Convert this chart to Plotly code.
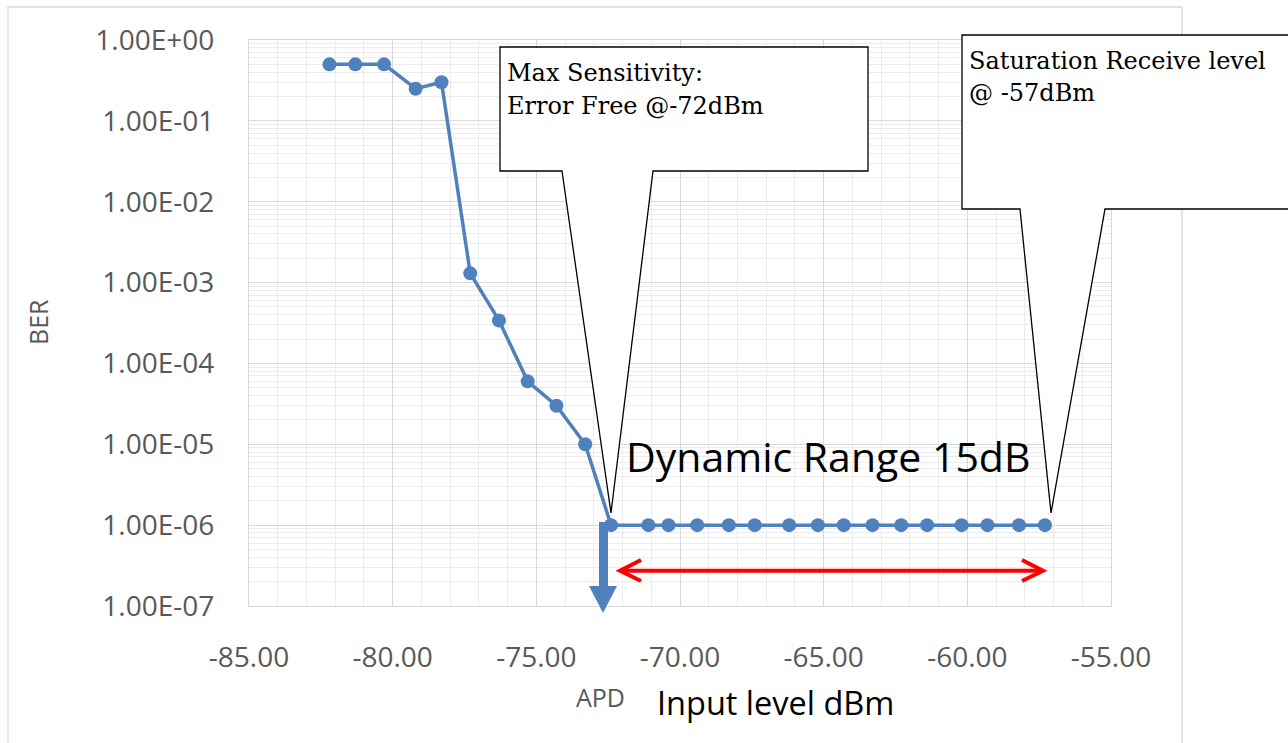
import plotly.graph_objects as go

# ---------------- data ----------------
input_dbm = [-82.2, -81.3, -80.3, -79.2, -78.3, -77.3, -76.3, -75.3, -74.3, -73.3,
             -72.4, -71.1, -70.4, -69.4, -68.3, -67.4, -66.2, -65.2, -64.3, -63.3,
             -62.3, -61.4, -60.2, -59.3, -58.2, -57.3]
ber = [0.5, 0.5, 0.5, 0.25, 0.3, 1.3e-3, 3.4e-4, 6e-5, 3e-5, 1e-5,
       1e-6, 1e-6, 1e-6, 1e-6, 1e-6, 1e-6, 1e-6, 1e-6, 1e-6, 1e-6,
       1e-6, 1e-6, 1e-6, 1e-6, 1e-6, 1e-6]

x_tickvals = [-85, -80, -75, -70, -65, -60, -55]
x_ticktext = ["-85.00", "-80.00", "-75.00", "-70.00", "-65.00", "-60.00", "-55.00"]
y_tickvals = [1e0, 1e-1, 1e-2, 1e-3, 1e-4, 1e-5, 1e-6, 1e-7]
y_ticktext = ["1.00E+00", "1.00E-01", "1.00E-02", "1.00E-03",
              "1.00E-04", "1.00E-05", "1.00E-06", "1.00E-07"]

# ---------------- layout helpers (pixel -> paper) ----------------
W_FIG, H_FIG = 1288, 743
L, R, T, B = 249, 1111, 40, 606
PW, PH = R - L, B - T


def px(x):
    return (x - L) / PW


def py(y):
    return (B - y) / PH


def path(points, close=True):
    s = "M " + " L ".join(f"{px(a):.5f},{py(b):.5f}" for a, b in points)
    return s + (" Z" if close else "")


BLUE = "#4F81BD"
GRAY = "#595959"
MAJ = "#d9d9d9"
MIN = "#ececec"

fig = go.Figure()
fig.add_trace(go.Scatter(
    x=input_dbm, y=ber, mode="lines+markers",
    line=dict(color=BLUE, width=3.5),
    marker=dict(color=BLUE, size=14),
    showlegend=False, hoverinfo="x+y"))

shapes = []
# outer chart border
shapes.append(dict(type="rect", xref="paper", yref="paper",
                   x0=px(8), x1=px(1182), y0=py(7), y1=py(760),
                   line=dict(color=MAJ, width=1.3), layer="below"))
# callout 1
shapes.append(dict(type="path", xref="paper", yref="paper",
                   path=path([(500, 47), (868, 47), (868, 171), (653, 171),
                              (611, 513), (562, 171), (500, 171)]),
                   fillcolor="white", line=dict(color="black", width=1.3),
                   layer="above"))
# callout 2
shapes.append(dict(type="path", xref="paper", yref="paper",
                   path=path([(962, 35), (1310, 35), (1310, 209), (1105, 209),
                              (1051, 513), (1020, 209), (962, 209)]),
                   fillcolor="white", line=dict(color="black", width=1.3),
                   layer="above"))
# blue down arrow
shapes.append(dict(type="path", xref="paper", yref="paper",
                   path=path([(599, 522), (608, 522), (608, 586), (617, 586),
                              (603, 613), (589, 586), (599, 586)]),
                   fillcolor=BLUE, line=dict(color=BLUE, width=0), layer="above"))
# red double arrow
shapes.append(dict(type="line", xref="paper", yref="paper",
                   x0=px(622), x1=px(1040), y0=py(570.7), y1=py(570.7),
                   line=dict(color="#ff0000", width=4), layer="above"))
shapes.append(dict(type="path", xref="paper", yref="paper",
                   path=path([(641, 560), (620, 570.7), (641, 581)], close=False),
                   line=dict(color="#ff0000", width=4), layer="above"))
shapes.append(dict(type="path", xref="paper", yref="paper",
                   path=path([(1022, 560), (1043, 570.7), (1022, 581)], close=False),
                   line=dict(color="#ff0000", width=4), layer="above"))

serif = "DejaVu Serif"
ann = []


def text(t, x, y, size, color="black", family="Open Sans", xanchor="left", angle=0):
    ann.append(dict(text=t, xref="paper", yref="paper", x=px(x), y=py(y),
                    xanchor=xanchor, yanchor="middle", showarrow=False,
                    textangle=angle,
                    font=dict(family=family, size=size, color=color)))


text("Max Sensitivity:", 505, 73, 24, family=serif)
text("Error Free @-72dBm", 505, 106, 24, family=serif)
text("Saturation Receive level", 967, 61, 24, family=serif)
text("@ -57dBm", 967, 93, 24, family=serif)
text("Dynamic Range 15dB", 624, 456, 41)
text("Input level dBm", 655, 702, 32.5)
text("APD", 574, 697, 25, color=GRAY)
text("BER", 38, 322, 25, color=GRAY, xanchor="center", angle=-90)

fig.update_layout(
    width=W_FIG, height=H_FIG,
    margin=dict(l=L, r=W_FIG - R, t=T, b=H_FIG - B, pad=0),
    paper_bgcolor="white", plot_bgcolor="white",
    shapes=shapes, annotations=ann,
    font=dict(family="Open Sans"),
    xaxis=dict(
        range=[-85, -55], tickmode="array", tickvals=x_tickvals, ticktext=x_ticktext,
        showgrid=True, gridcolor=MAJ, gridwidth=1.3,
        minor=dict(dtick=1, showgrid=True, gridcolor=MIN, gridwidth=1.2),
        showline=True, linecolor=MAJ, linewidth=1.3, mirror=True,
        zeroline=False, ticks="", ticklabelstandoff=26,
        tickfont=dict(family="Open Sans", size=28, color=GRAY)),
    yaxis=dict(
        type="log", range=[-7, 0], tickmode="array", tickvals=y_tickvals,
        ticktext=y_ticktext,
        showgrid=True, gridcolor=MAJ, gridwidth=1.3,
        minor=dict(dtick="D1", showgrid=True, gridcolor=MIN, gridwidth=1.2),
        showline=True, linecolor=MAJ, linewidth=1.3, mirror=True,
        zeroline=False, ticks="", ticklabelstandoff=28,
        tickfont=dict(family="Open Sans", size=28, color=GRAY)),
)

fig.write_html("out.html")
